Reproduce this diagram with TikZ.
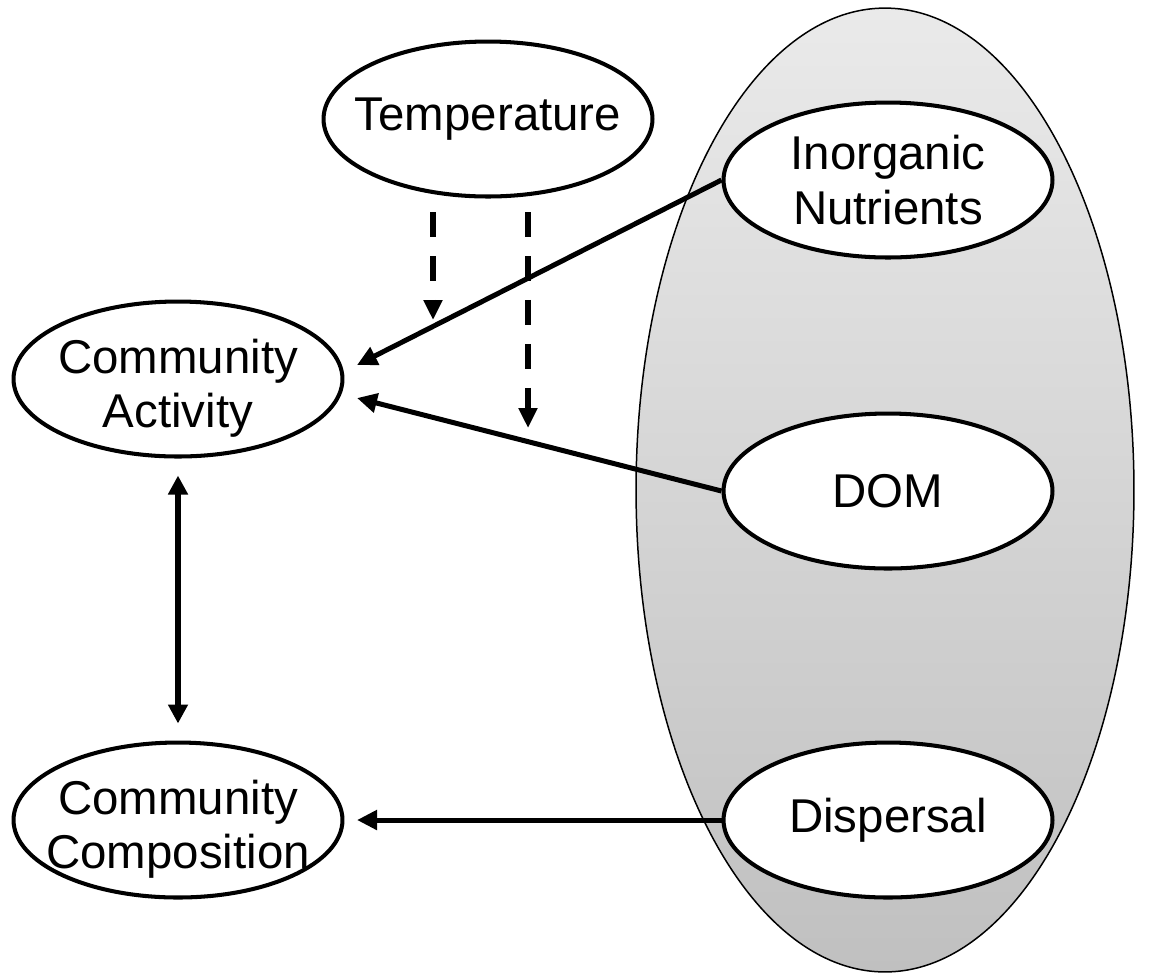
\documentclass[tikz,border=0pt]{standalone}
\usepackage{fontspec}
\setmainfont{Liberation Sans}
\usetikzlibrary{shapes.geometric,arrows.meta}

\begin{document}
\begin{tikzpicture}[x=0.02cm,y=-0.02cm]
% define box types
\tikzstyle{oval}=[draw, ellipse, line width=2.3pt, fill=white,
    minimum width=6.58cm, minimum height=3.1cm, inner xsep=-8mm, inner ysep=-3mm,
    align=center, font=\fontsize{27}{31}\selectfont]
\tikzstyle{lowtext}=[text height=2.14cm]
\tikzstyle{pool}=[draw, ellipse, line width=0.85pt,
    top color={rgb,255:red,234;green,234;blue,234},
    bottom color={rgb,255:red,192;green,192;blue,192},
    minimum width=9.96cm, minimum height=19.28cm, inner sep=0pt]
\tikzstyle{a}=[line width=2.85pt, -{Triangle[length=0.4cm,width=0.38cm]}]
\tikzstyle{b}=[line width=2.85pt, {Triangle[length=0.38cm,width=0.38cm]}-{Triangle[length=0.38cm,width=0.38cm]}]
\tikzstyle{d}=[line width=3.2pt, dash pattern=on 0.5cm off 0.38cm,
    -{Triangle[length=0.4cm,width=0.36cm]}]
\useasboundingbox (0,0) rectangle (1151,975);
% resource pool
\node[pool] (pool) at (885,490) {};
% factors
\node[oval] (temp) at (488,119) {Temperature};
\node[oval] (inorg) at (888,180) {Inorganic\\Nutrients};
\node[oval] (dom) at (888,491) {DOM};
\node[oval] (disp) at (888,820) {Dispersal};
\node[oval,lowtext] (act) at (178,379) {Community\\Activity};
\node[oval,lowtext] (comp) at (178,820) {Community\\Composition};
% free ends
\coordinate (actIn) at (357,365);
\coordinate (actDom) at (357,398);
\coordinate (compIn) at (357,820);
\coordinate (t1s) at (433,212);
\coordinate (t1e) at (433,320);
\coordinate (t2s) at (528,212);
\coordinate (t2e) at (528,428);
% arrows
\draw[d] (t1s) -- (t1e);
\draw[d] (t2s) -- (t2e);
\draw[a] (inorg.west) -- (actIn);
\draw[a] (dom.west) -- (actDom);
\draw[a] (disp.west) -- (compIn);
\draw[b, shorten <=0.34cm, shorten >=0.34cm] (act.south) -- (comp.north);
\end{tikzpicture}
\end{document}
